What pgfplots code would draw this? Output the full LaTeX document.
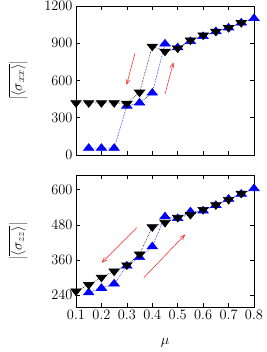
\documentclass[border=0pt]{standalone}
\usepackage{pgfplots}
\pgfplotsset{compat=1.18}
\usetikzlibrary{arrows.meta}
\pgfplotstableread{
x y
0.15 55
0.20 55
0.25 55
0.30 395
0.35 420
0.40 500
0.45 895
0.50 865
0.55 915
0.60 955
0.65 995
0.70 1025
0.75 1065
0.80 1100
}\xxup
\pgfplotstableread{
x y
0.10 420
0.15 420
0.20 420
0.25 420
0.30 415
0.35 505
0.40 875
0.45 835
0.50 860
0.55 925
0.60 965
0.65 995
0.70 1025
0.75 1065
}\xxdown
\pgfplotstableread{
x y
0.15 249
0.20 264
0.25 279
0.30 340
0.35 369
0.40 406
0.45 508
0.50 502
0.55 525
0.60 528
0.65 547
0.70 568
0.75 585
0.80 604
}\zzup
\pgfplotstableread{
x y
0.10 254
0.15 276
0.20 301
0.25 322
0.30 343
0.35 380
0.40 473
0.45 488
0.50 505
0.55 515
0.60 532
0.65 548
0.70 566
0.75 587
}\zzdown
\tikzset{arr/.style={red!90!white, line width=0.5pt, -{Straight Barb[length=5pt,width=4pt]}}}
\begin{document}
\begin{tikzpicture}
\useasboundingbox (0,0) rectangle (266pt,-352pt);
\pgfplotsset{
  every axis/.append style={
    scale only axis, width=178pt, xmin=0.1, xmax=0.8, clip=false,
    tick align=inside, major tick length=4pt,
    axis line style={line width=0.8pt}, every tick/.style={black, line width=0.6pt},
    xtick={0.1,0.2,0.3,0.4,0.5,0.6,0.7,0.8},
    x tick label style={font=\fontsize{13.5}{15}\selectfont, /pgf/number format/fixed, /pgf/number format/precision=1},
    y tick label style={font=\fontsize{14.5}{16}\selectfont, /pgf/number format/set thousands separator={}},
    every axis y label/.style={at={(axis description cs:-0.325,0.5)}, rotate=90, anchor=center, font=\fontsize{15.5}{17}\selectfont},
  },
  upm/.style={blue, densely dotted, line width=0.6pt, mark=triangle*, mark size=4.5pt, mark options={solid, fill=blue, draw=blue, xscale=1.35}},
  dnm/.style={black, densely dotted, line width=0.6pt, mark=triangle*, mark size=4.5pt, mark options={solid, fill=black, draw=black, rotate=180, xscale=1.35}},
}
\begin{axis}[at={(76pt,-155pt)}, anchor=south west, height=149pt,
  ymin=0, ymax=1200, ytick={0,300,600,900,1200}, xticklabels={},
  ylabel={$\left|\overline{\langle\sigma_{xx}\rangle}\right|$}]
\addplot[upm] table[x=x,y=y] {\xxup};
\addplot[dnm] table[x=x,y=y] {\xxdown};
\draw[arr] (axis cs:0.332,820) -- (axis cs:0.299,565);
\draw[arr] (axis cs:0.45,490) -- (axis cs:0.483,745);
\end{axis}
\begin{axis}[at={(76pt,-307pt)}, anchor=south west, height=132pt,
  ymin=200, ymax=650, ytick={240,360,480,600},
  ylabel={$\left|\overline{\langle\sigma_{zz}\rangle}\right|$},
  xlabel={$\mu$}, xlabel style={at={(axis description cs:0.5,-0.273)}, anchor=center, font=\fontsize{13.5}{15}\selectfont}]
\addplot[upm] table[x=x,y=y] {\zzup};
\addplot[dnm] table[x=x,y=y] {\zzdown};
\draw[arr] (axis cs:0.339,470) -- (axis cs:0.201,351);
\draw[arr] (axis cs:0.367,300) -- (axis cs:0.529,447);
\end{axis}
\end{tikzpicture}
\end{document}
